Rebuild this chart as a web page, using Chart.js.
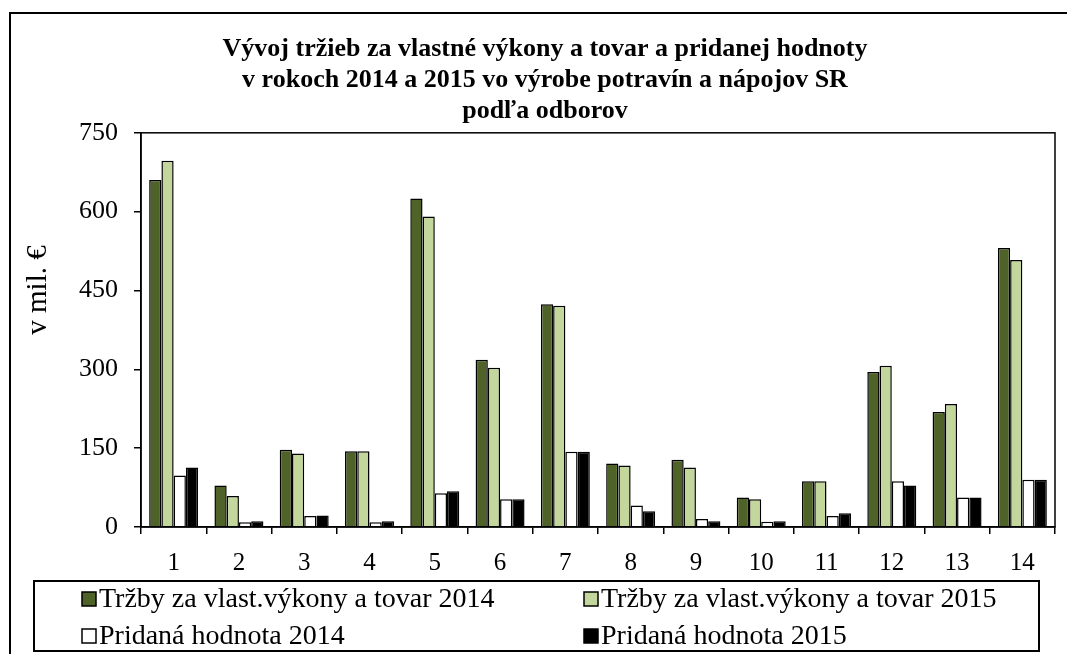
<!DOCTYPE html>
<html>
<head>
<meta charset="utf-8">
<script src="https://cdn.jsdelivr.net/npm/chart.js@4"></script>
<style>
  html, body { margin: 0; padding: 0; background: #fff; }
  #wrap { width: 1067px; height: 654px; position: relative; }
</style>
</head>
<body>
<div id="wrap"><canvas id="chart" width="1067" height="654"></canvas></div>
<script>
const categories = ['1', '2', '3', '4', '5', '6', '7', '8', '9', '10', '11', '12', '13', '14'];
const trzby2014 = [660, 79, 147, 144, 625, 318, 424, 121, 128, 56, 87, 295, 219, 531];
const trzby2015 = [697, 59, 140, 144, 591, 303, 421, 117, 113, 53, 87, 307, 234, 508];
const pridana2014 = [98, 9, 21, 9, 64, 53, 143, 41, 15, 10, 21, 87, 56, 90];
const pridana2015 = [113, 11, 22, 11, 68, 53, 143, 30, 11, 11, 26, 79, 56, 90];
const yTicks = [0, 150, 300, 450, 600, 750];
const yTitle = 'v mil. €';

const serif = '"Liberation Serif", "Times New Roman", serif';

// frame round the whole chart, the plot box, axis title and the boxed two-column legend
const framePlugin = {
    id: 'frame',
    afterDatasetsDraw(chart) {
        const ctx = chart.ctx;
        const a = chart.chartArea;
        ctx.save();
        ctx.strokeStyle = '#000';
        ctx.lineWidth = 1.5;
        ctx.strokeRect(a.left, a.top, a.right - a.left, a.bottom - a.top);
        ctx.restore();
    },
    afterDraw(chart) {
        const ctx = chart.ctx;
        ctx.save();
        ctx.strokeStyle = '#000';
        ctx.lineWidth = 2;
        // outer border (left and top visible)
        ctx.beginPath();
        ctx.moveTo(10, 660);
        ctx.lineTo(10, 13);
        ctx.lineTo(1070, 13);
        ctx.stroke();

        // y axis title, sits a bit above the middle like the original
        ctx.save();
        ctx.translate(38, 290);
        ctx.rotate(-Math.PI / 2);
        ctx.font = '29px ' + serif;
        ctx.fillStyle = '#000';
        ctx.textAlign = 'center';
        ctx.textBaseline = 'middle';
        ctx.fillText(yTitle, 0, 0);
        ctx.restore();

        // legend box
        ctx.lineWidth = 2;
        ctx.strokeRect(34, 581, 1005, 70);

        const cols = [82, 584];
        const rows = [599, 636];
        ctx.font = '28px ' + serif;
        ctx.textBaseline = 'middle';
        chart.data.datasets.forEach((ds, i) => {
            const x = cols[i % 2];
            const y = rows[Math.floor(i / 2)];
            ctx.fillStyle = ds.backgroundColor;
            ctx.fillRect(x, y - 7, 14, 14);
            ctx.lineWidth = 1.5;
            ctx.strokeStyle = '#000';
            ctx.strokeRect(x, y - 7, 14, 14);
            ctx.fillStyle = '#000';
            ctx.fillText(ds.label, x + 17, y + 1);
        });
        ctx.restore();
    }
};

const ctx = document.getElementById('chart').getContext('2d');
const chart = new Chart(ctx, {
    type: 'bar',
    data: {
        labels: categories,
        datasets: [{
            label: 'Tržby za vlast.výkony a tovar 2014',
            data: trzby2014,
            backgroundColor: '#4F6228'
        }, {
            label: 'Tržby za vlast.výkony a tovar 2015',
            data: trzby2015,
            backgroundColor: '#C3D69B'
        }, {
            label: 'Pridaná hodnota 2014',
            data: pridana2014,
            backgroundColor: '#FFFFFF'
        }, {
            label: 'Pridaná hodnota 2015',
            data: pridana2015,
            backgroundColor: '#000000'
        }]
    },
    options: {
        responsive: false,
        animation: false,
        layout: {
            // left padding moves the centred title right, y axis width makes up for it
            padding: { left: 35, right: 12, top: 0, bottom: 0 }
        },
        datasets: {
            bar: {
                borderColor: '#000',
                borderWidth: 1.5,
                categoryPercentage: 0.75,
                barPercentage: 1
            }
        },
        plugins: {
            legend: { display: false },
            tooltip: { enabled: false },
            title: {
                display: true,
                text: [
                    'Vývoj tržieb za vlastné výkony a tovar a pridanej hodnoty',
                    'v rokoch 2014 a 2015 vo výrobe potravín a nápojov SR',
                    'podľa odborov'
                ],
                color: '#000',
                font: { family: serif, size: 26, weight: 'bold', lineHeight: 1.19 },
                padding: { top: 34, bottom: 6 }
            }
        },
        scales: {
            x: {
                grid: {
                    offset: true,
                    drawOnChartArea: false,
                    drawTicks: true,
                    tickLength: 7,
                    color: '#000',
                    lineWidth: 1.5
                },
                border: { display: true, color: '#000', width: 1.5 },
                ticks: {
                    color: '#000',
                    font: { family: serif, size: 25 },
                    padding: 14,
                    maxRotation: 0,
                    autoSkip: false
                },
                afterFit: (scale) => { scale.height = 127; }
            },
            y: {
                min: 0,
                max: 750,
                afterBuildTicks: (scale) => {
                    scale.ticks = yTicks.map(v => ({ value: v }));
                },
                grid: {
                    drawOnChartArea: false,
                    drawTicks: true,
                    tickLength: 7,
                    color: '#000',
                    lineWidth: 1.5
                },
                border: { display: true, color: '#000', width: 1.5 },
                ticks: {
                    color: '#000',
                    font: { family: serif, size: 26 },
                    padding: 16
                },
                afterFit: (scale) => { scale.width = 106; }
            }
        }
    },
    plugins: [framePlugin]
});
</script>
</body>
</html>
